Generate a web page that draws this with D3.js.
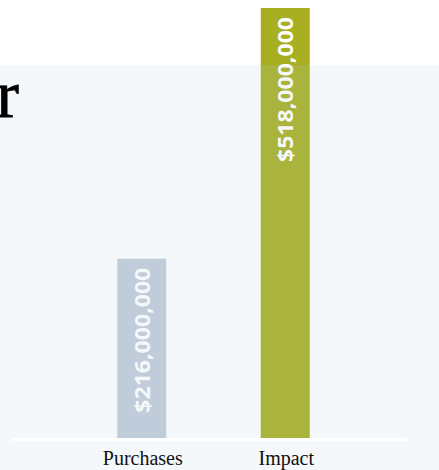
<!DOCTYPE html>
<html>
<head>
<meta charset="utf-8">
<script src="https://cdn.jsdelivr.net/npm/d3@7"></script>
<style>
  body { margin: 0; background: #fff; }
  svg { display: block; }
</style>
</head>
<body>
<div id="chart"></div>
<script>
// data
var categories = ["Purchases", "Impact"];
var values = [216000000, 518000000];
var barColors = ["#c2cdd8", "#a8af22"];
var valueLabels = ["$216,000,000", "$518,000,000"];
var titleText = "r";

var width = 439, height = 470;
var baseY = 438;

var svg = d3.select("#chart")
    .append("svg")
    .attr("width", width)
    .attr("height", height);

// white strip at top, light panel below (panel drawn later as a tint)
svg.append("rect")
    .attr("width", width)
    .attr("height", height)
    .attr("fill", "#ffffff");

var x = d3.scaleBand()
    .domain(categories)
    .range([0, 427])
    .paddingInner(0.6585)
    .paddingOuter(0.817);

var y = d3.scaleLinear()
    .domain([0, d3.max(values)])
    .range([baseY, 8]);

var data = categories.map(function(c, i){
    return {cat: c, value: values[i], color: barColors[i], label: valueLabels[i]};
});

svg.selectAll(".bar")
    .data(data)
    .join("rect")
    .attr("class", "bar")
    .attr("x", function(d){ return x(d.cat); })
    .attr("y", function(d){ return y(d.value); })
    .attr("width", x.bandwidth())
    .attr("height", function(d){ return baseY - y(d.value); })
    .attr("fill", function(d){ return d.color; });

svg.selectAll(".val")
    .data(data)
    .join("text")
    .attr("class", "val")
    .attr("transform", function(d){
        return "translate(" + (x(d.cat) + x.bandwidth()/2 + 8) + "," + (y(d.value) + 9) + ") rotate(-90)";
    })
    .attr("text-anchor", "end")
    .attr("font-family", "'Open Sans', sans-serif")
    .attr("font-weight", 700)
    .attr("font-size", 22)
    .attr("textLength", 145)
    .attr("lengthAdjust", "spacingAndGlyphs")
    .attr("fill", "#ffffff")
    .text(function(d){ return d.label; });

// light blue tint over the panel area
svg.append("rect")
    .attr("x", 0)
    .attr("y", 65)
    .attr("width", width)
    .attr("height", height - 65)
    .attr("fill", "rgb(181,204,226)")
    .attr("fill-opacity", 0.136);

// baseline
svg.append("line")
    .attr("x1", 12)
    .attr("x2", 407)
    .attr("y1", baseY + 1.5)
    .attr("y2", baseY + 1.5)
    .attr("stroke", "#ffffff")
    .attr("stroke-width", 3);

// category axis
var xAxis = svg.append("g")
    .attr("transform", "translate(1," + (baseY + 3) + ")")
    .call(d3.axisBottom(x).tickSize(0).tickPadding(10));
xAxis.select(".domain").remove();
xAxis.selectAll("text")
    .attr("font-family", "'Liberation Serif', serif")
    .attr("font-size", 20)
    .attr("fill", "#111");

// cut-off title (the rest of it lies left of the view)
svg.append("text")
    .attr("x", 19)
    .attr("y", 117)
    .attr("text-anchor", "end")
    .attr("font-family", "'Liberation Serif', serif")
    .attr("font-size", 68)
    .attr("stroke", "#000")
    .attr("stroke-width", 0.8)
    .attr("fill", "#000")
    .text(titleText);
</script>
</body>
</html>
